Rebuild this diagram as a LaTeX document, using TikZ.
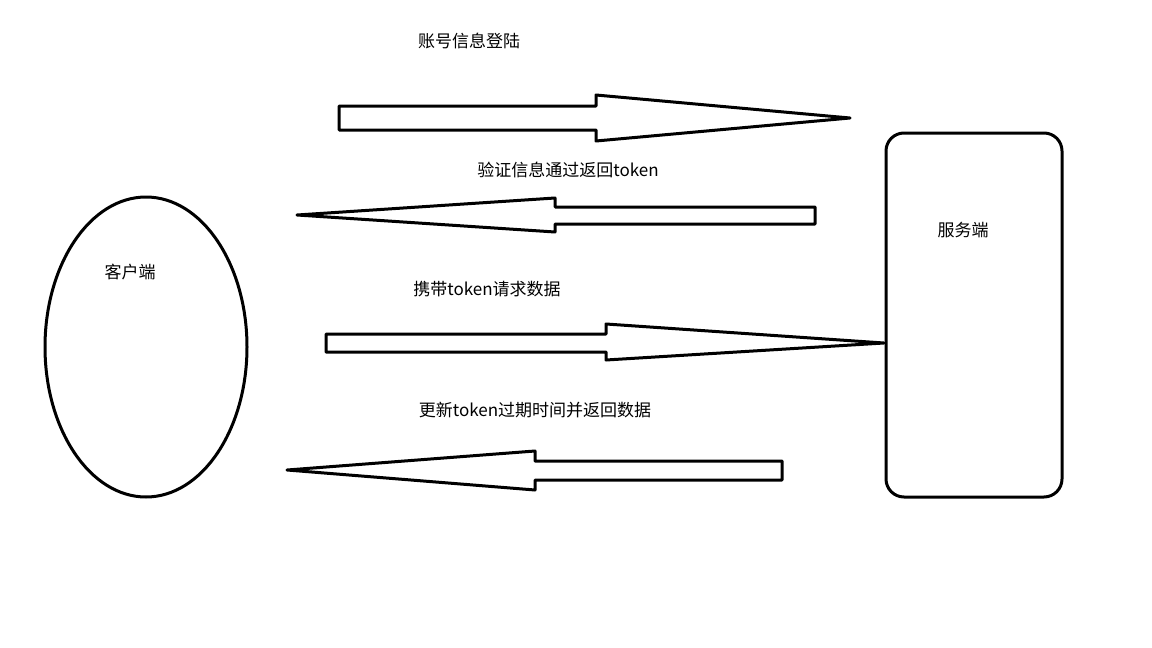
\documentclass[tikz,border=0pt]{standalone}
\usepackage{fontspec}
\setmainfont{Noto Sans CJK SC}
\usetikzlibrary{positioning}
\begin{document}
\begin{tikzpicture}[x=1pt, y=-1pt,
		outline/.style = {draw, line width = 3pt, line join = round},
		msglabel/.style = {font = \fontsize{17}{20}\selectfont}]
		\useasboundingbox (0,0) rectangle (1152,648);
		% Client and server
		\draw [outline] (146,347) ellipse [x radius = 101, y radius = 150];
		\node (client) at (130,272) [msglabel] {客户端};
		\draw [outline, rounded corners = 18pt] (886,133) rectangle (1062,497);
		\node (server) at (963,230) [msglabel] {服务端};
		% Block arrows
		\draw [outline] (339,106) -- (596,106) -- (596,95) -- (850,118) -- (596,141) -- (596,130) -- (339,130) -- cycle;
		\draw [outline] (815,207) -- (555,207) -- (555,198) -- (297,215) -- (555,232) -- (555,224) -- (815,224) -- cycle;
		\draw [outline] (326,334) -- (606,334) -- (606,324) -- (884,343) -- (606,360) -- (606,352) -- (326,352) -- cycle;
		\draw [outline] (782,461) -- (535,461) -- (535,451) -- (287,470) -- (535,490) -- (535,480) -- (782,480) -- cycle;
		% Messages
		\node (login) at (469,41) [msglabel] {账号信息登陆};
		\node (reply) at (568,170) [msglabel] {验证信息通过返回token};
		\node (request) at (487,289) [msglabel] {携带token请求数据};
		\node (refresh) at (535,410) [msglabel] {更新token过期时间并返回数据};
	\end{tikzpicture}
\end{document}
